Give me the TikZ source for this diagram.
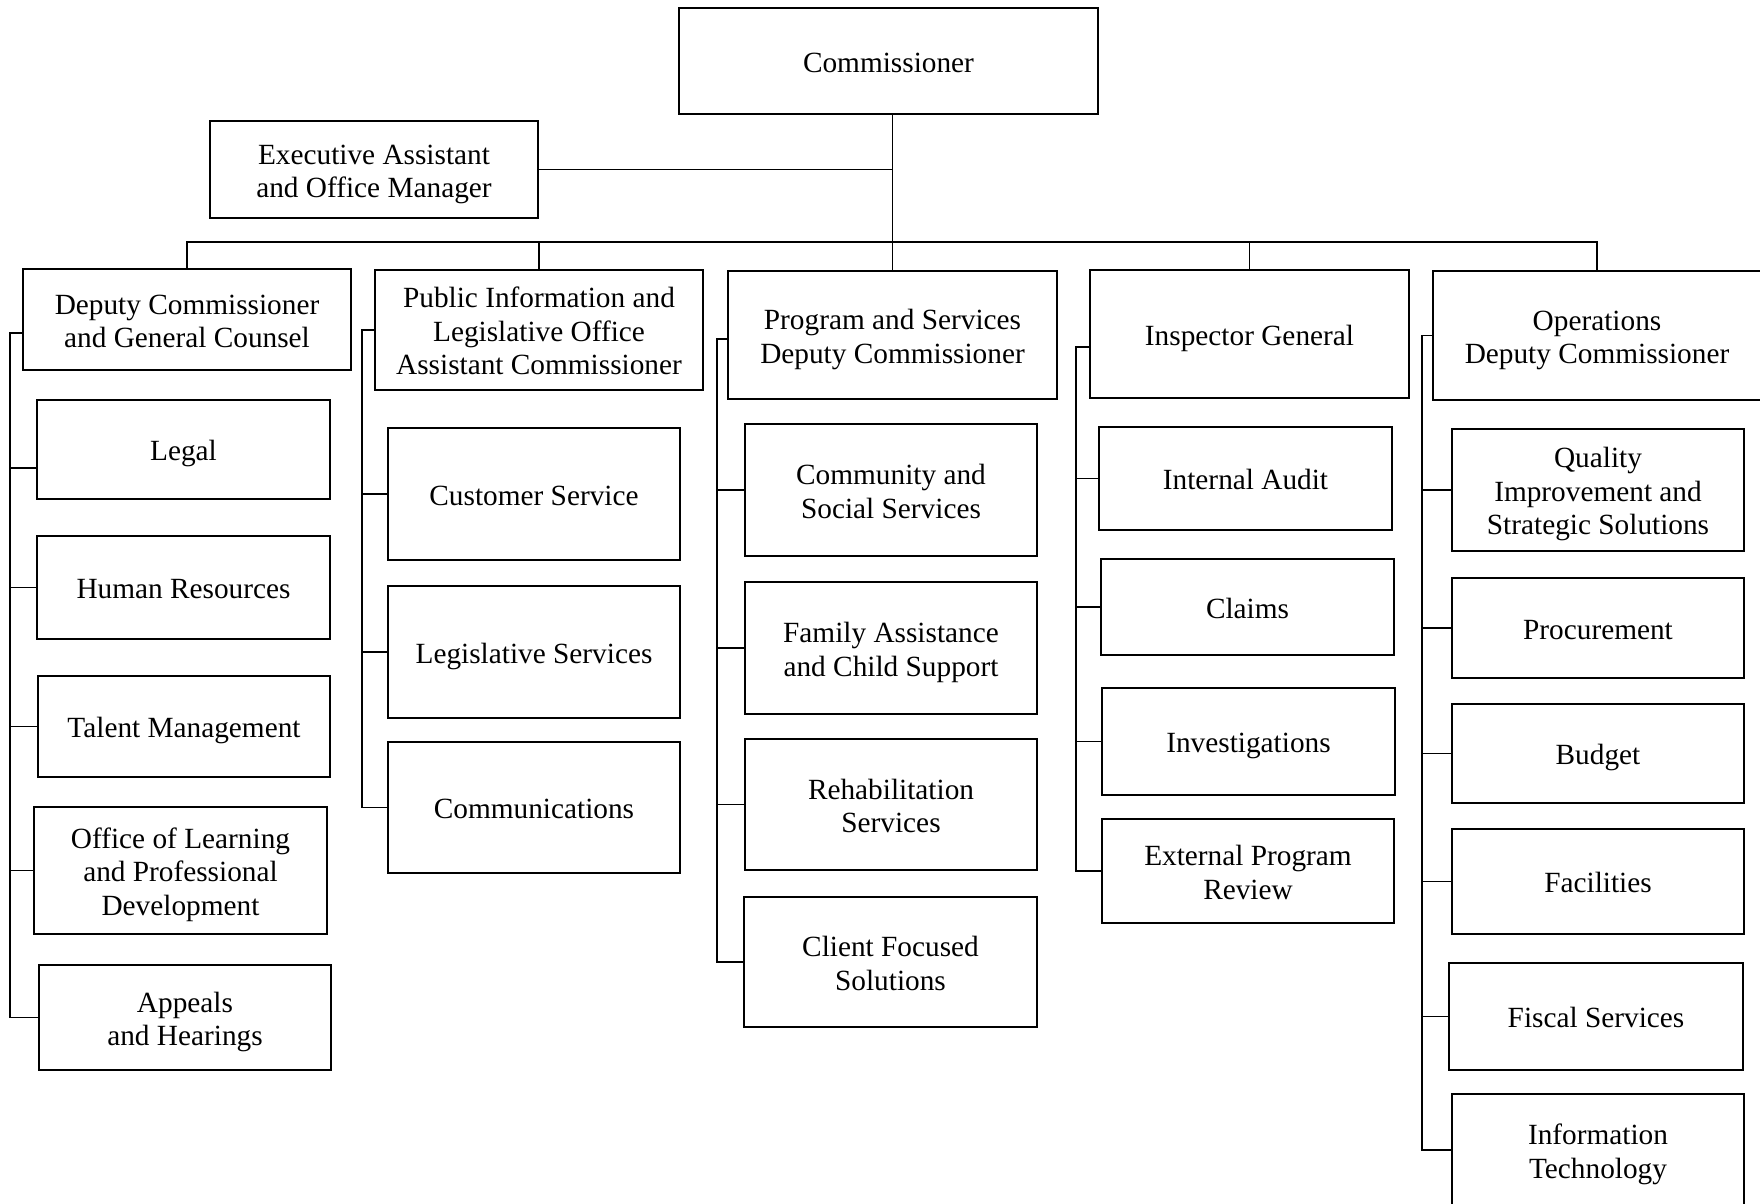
\documentclass[tikz,border=0pt]{standalone}
\usepackage{fontspec}
\setmainfont{Liberation Serif}
\newcommand{\boxfont}{\fontsize{29.3}{33.5}\selectfont}
\newcommand{\tops}{\rule{0pt}{30pt}}
\newcommand{\bots}{\rule[-7.5pt]{0pt}{0pt}}
\begin{document}
\begin{tikzpicture}[x=1pt,y=-1pt,
  box/.style={draw, line width=2.8pt, inner sep=0pt, align=center, font=\boxfont},
  conn/.style={draw, line width=1.8pt}]
\useasboundingbox (0,0) rectangle (1760,1203);
\clip (0,0) rectangle (1760,1203);
\fill[white] (0,0) rectangle (1760,1203);

% top level
\node[box, minimum width=419pt, minimum height=106pt] (comm) at (888.5,61) {\tops Commissioner\bots};
\node[box, minimum width=328pt, minimum height=97pt] (exec) at (374,169.5) {\tops Executive Assistant\\and Office Manager\bots};

% second level
\node[box, minimum width=328pt, minimum height=101pt] (dep) at (187,319.5) {\tops Deputy Commissioner\\and General Counsel\bots};
\node[box, minimum width=328pt, minimum height=120pt] (pub) at (539,330) {\tops Public Information and\\Legislative Office\\Assistant Commissioner\bots};
\node[box, minimum width=329pt, minimum height=128pt] (prog) at (892.5,335) {\tops Program and Services\\Deputy Commissioner\bots};
\node[box, minimum width=319pt, minimum height=128pt] (ig) at (1249.5,334) {\tops Inspector General\bots};
\node[box, minimum width=328pt, minimum height=129pt] (ops) at (1597,335.5) {\tops Operations\\Deputy Commissioner\bots};

% deputy commissioner column
\node[box, minimum width=293pt, minimum height=99pt] (legal) at (183.5,449.5) {\tops Legal\bots};
\node[box, minimum width=293pt, minimum height=103pt] (hr) at (183.5,587.5) {\tops Human Resources\bots};
\node[box, minimum width=292pt, minimum height=101pt] (talent) at (184,726.5) {\tops Talent Management\bots};
\node[box, minimum width=293pt, minimum height=127pt] (olpd) at (180.5,870.5) {\tops Office of Learning\\and Professional\\Development\bots};
\node[box, minimum width=292pt, minimum height=105pt] (appeals) at (185,1017.5) {\tops Appeals\\and Hearings\bots};

% public information column
\node[box, minimum width=292pt, minimum height=132pt] (cust) at (534,494) {\tops Customer Service\bots};
\node[box, minimum width=292pt, minimum height=132pt] (legis) at (534,652) {\tops Legislative Services\bots};
\node[box, minimum width=292pt, minimum height=131pt] (comms) at (534,807.5) {\tops Communications\bots};

% program column
\node[box, minimum width=292pt, minimum height=132pt] (community) at (891,490) {\tops Community and\\Social Services\bots};
\node[box, minimum width=292pt, minimum height=132pt] (family) at (891,648) {\tops Family Assistance\\and Child Support\bots};
\node[box, minimum width=292pt, minimum height=131pt] (rehab) at (891,804.5) {\tops Rehabilitation\\Services\bots};
\node[box, minimum width=293pt, minimum height=130pt] (client) at (890.5,962) {\tops Client Focused\\Solutions\bots};

% inspector general column
\node[box, minimum width=293pt, minimum height=103pt] (audit) at (1245.5,478.5) {\tops Internal Audit\bots};
\node[box, minimum width=293pt, minimum height=96pt] (claims) at (1247.5,607) {\tops Claims\bots};
\node[box, minimum width=293pt, minimum height=107pt] (invest) at (1248.5,741.5) {\tops Investigations\bots};
\node[box, minimum width=292pt, minimum height=104pt] (extrev) at (1248,871) {\tops External Program\\Review\bots};

% operations column
\node[box, minimum width=292pt, minimum height=122pt] (quality) at (1598,490) {\tops Quality\\Improvement and\\Strategic Solutions\bots};
\node[box, minimum width=292pt, minimum height=100pt] (procure) at (1598,628) {\tops Procurement\bots};
\node[box, minimum width=292pt, minimum height=99pt] (budget) at (1598,753.5) {\tops Budget\bots};
\node[box, minimum width=292pt, minimum height=105pt] (facil) at (1598,881.5) {\tops Facilities\bots};
\node[box, minimum width=294pt, minimum height=107pt] (fiscal) at (1596,1016.5) {\tops Fiscal Services\bots};
\node[box, minimum width=292pt, minimum height=112pt] (it) at (1598,1150) {\tops Information\\Technology\bots};

% top connectors
\coordinate (bus) at (0,242);
\draw[conn] (comm.south -| prog.north) -- (prog.north);
\draw[conn] (exec.east) -- (exec.east -| prog.north);
\draw[conn] (dep.north) -- (dep.north |- bus) -- (ops.north |- bus) -- (ops.north);
\draw[conn] (pub.north) -- (pub.north |- bus);
\draw[conn] (ig.north) -- (ig.north |- bus);

% bracket x positions
\coordinate (depb) at (10,0);
\coordinate (pubb) at (362,0);
\coordinate (progb) at (717,0);
\coordinate (igb) at (1076,0);
\coordinate (opsb) at (1422,0);

% deputy commissioner brackets
\draw[conn] ([yshift=-13.5pt]dep.west) -| (depb |- appeals.west) -- (appeals.west);
\draw[conn] (depb |- 0,468) -- ([yshift=-18.5pt]legal.west);
\draw[conn] (depb |- hr.west) -- (hr.west);
\draw[conn] (depb |- talent.west) -- (talent.west);
\draw[conn] (depb |- olpd.west) -- (olpd.west);

% public information brackets
\draw[conn] (pub.west) -| (pubb |- comms.west) -- (comms.west);
\draw[conn] (pubb |- cust.west) -- (cust.west);
\draw[conn] (pubb |- legis.west) -- (legis.west);

% program brackets
\draw[conn] ([yshift=-4pt]prog.west) -| (progb |- client.west) -- (client.west);
\draw[conn] (progb |- community.west) -- (community.west);
\draw[conn] (progb |- family.west) -- (family.west);
\draw[conn] (progb |- rehab.west) -- (rehab.west);

% inspector general brackets
\draw[conn] ([yshift=-13pt]ig.west) -| (igb |- extrev.west) -- (extrev.west);
\draw[conn] (igb |- audit.west) -- (audit.west);
\draw[conn] (igb |- claims.west) -- (claims.west);
\draw[conn] (igb |- invest.west) -- (invest.west);

% operations brackets
\draw[conn] (ops.west) -| (opsb |- it.west) -- (it.west);
\draw[conn] (opsb |- quality.west) -- (quality.west);
\draw[conn] (opsb |- procure.west) -- (procure.west);
\draw[conn] (opsb |- budget.west) -- (budget.west);
\draw[conn] (opsb |- facil.west) -- (facil.west);
\draw[conn] (opsb |- fiscal.west) -- (fiscal.west);
\end{tikzpicture}
\end{document}
